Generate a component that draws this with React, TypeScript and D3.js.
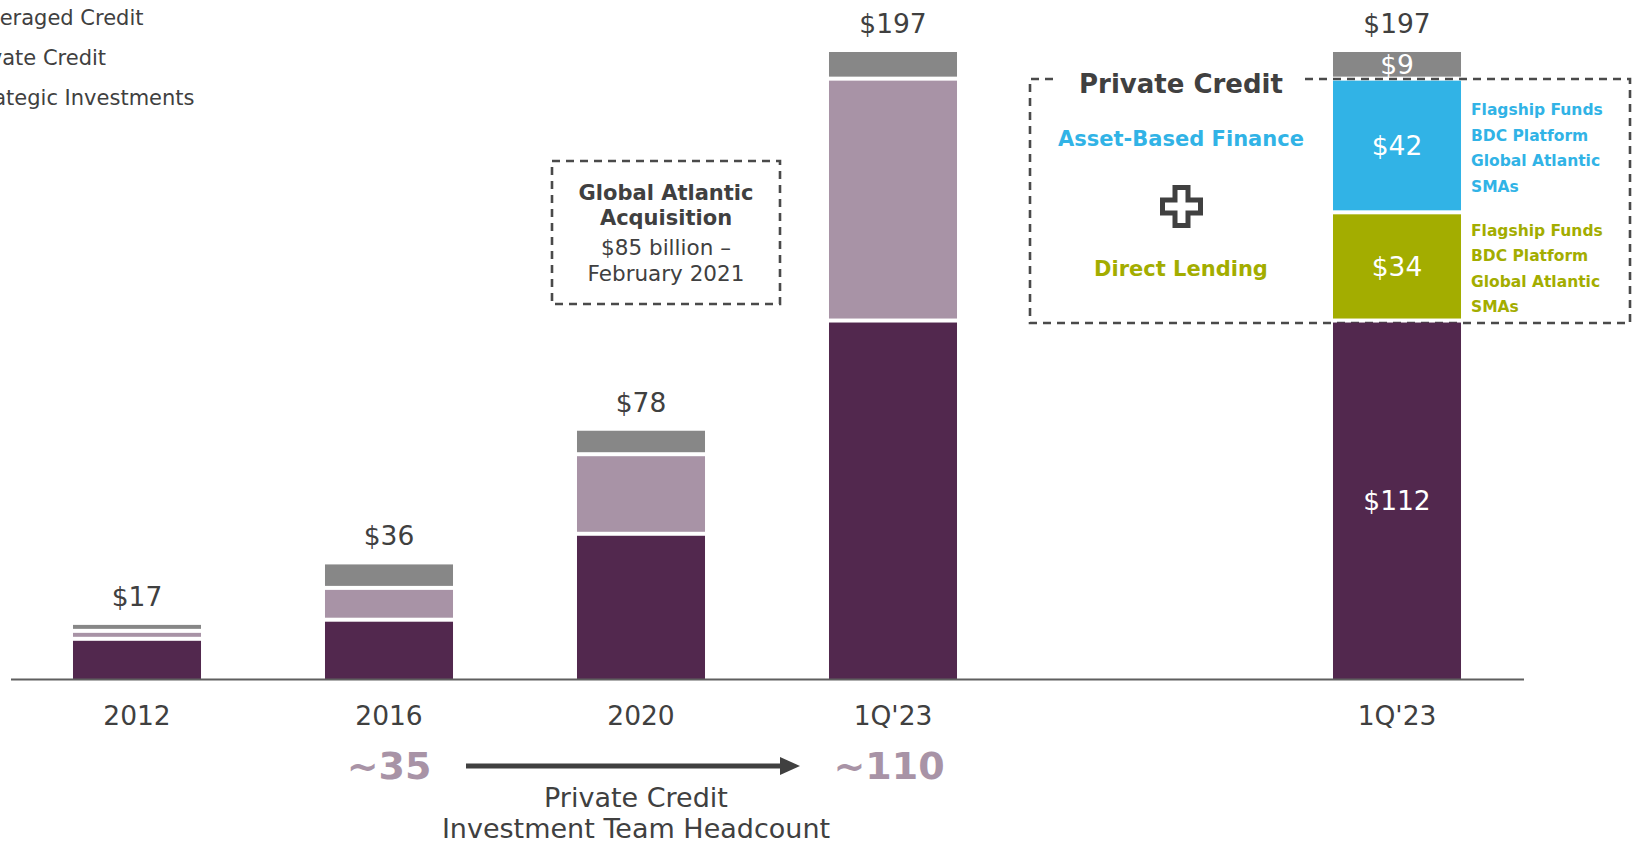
import React, { useEffect } from "react";
import * as d3 from "d3";

// ---- data ----
const slots = ["2012", "2016", "2020", "1Q'23", "gap", "1Q'23 detail"];
const tickLabels = ["2012", "2016", "2020", "1Q'23", "", "1Q'23"];
const historyYears = ["2012", "2016", "2020", "1Q'23"];
const leveragedCredit = [12, 18, 45, 112];
const privateCredit = [2.5, 10, 25, 76];
const strategicInvestments = [2.5, 8, 8, 9];
const totals = [17, 36, 78, 197];

const detailNames = ["Leveraged Credit", "Direct Lending", "Asset-Based Finance", "Strategic Investments"];
const detailValues = [112, 34, 42, 9];
const detailTotal = 197;

const legendLabels = ["Leveraged Credit", "Private Credit", "Strategic Investments"];
const channelLabels = ["Flagship Funds", "BDC Platform", "Global Atlantic", "SMAs"];
const headcount = ["~35", "~110"];

const C = {
  lev: "#52284E",
  pc: "#A893A6",
  si: "#878787",
  abf: "#31B3E6",
  dl: "#A3AD00",
  text: "#404040",
  axis: "#5f5f5f",
  dash: "#4a4a4a",
};

const W = 1637;
const H = 842;
const FONT = "'DejaVu Sans', Verdana, sans-serif";

export default function App() {
  useEffect(() => {
    document.body.style.margin = "0";
  }, []);

  const x = d3
    .scaleBand<string>()
    .domain(slots)
    .range([11, 11 + 252 * 6])
    .paddingInner(0.492)
    .paddingOuter(0.246);
  const y = d3.scaleLinear().domain([0, 197]).range([679, 52]);
  const bw = x.bandwidth();
  const GAP = 4;

  const stackData = historyYears.map((yr, i) => ({
    year: yr,
    lev: leveragedCredit[i],
    pc: privateCredit[i],
    si: strategicInvestments[i],
  }));
  const stack = d3.stack<any>().keys(["lev", "pc", "si"]);
  const series = stack(stackData);
  const colorOf: Record<string, string> = { lev: C.lev, pc: C.pc, si: C.si };

  // detail stack
  const detailColors = [C.lev, C.dl, C.abf, C.si];
  let acc = 0;
  const detailSegs = detailValues.map((v, i) => {
    const s = { y0: acc, y1: acc + v, v, name: detailNames[i], color: detailColors[i] };
    acc += v;
    return s;
  });
  const dx = x("1Q'23 detail")!;

  const segRect = (y0: number, y1: number) => {
    const top = y(y1);
    const bottom = y(y0) - (y0 > 0 ? GAP : 0);
    return { y: top, h: Math.max(0, bottom - top) };
  };

  // plus icon
  const px = 1181.5, py = 206.5, a = 19, t = 6.5;
  const plusPath = `M${px - t},${py - a} H${px + t} V${py - t} H${px + a} V${py + t} H${px + t} V${py + a} H${px - t} V${py + t} H${px - a} V${py - t} H${px - t} Z`;

  const dlSeg = detailSegs[1];
  const abfSeg = detailSegs[2];
  const abfMid = (y(abfSeg.y0) + y(abfSeg.y1)) / 2;
  const dlMid = (y(dlSeg.y0) + y(dlSeg.y1)) / 2;

  return (
    <svg width={W} height={H} style={{ display: "block", fontFamily: FONT }}>
      <rect width={W} height={H} fill="#fff" />

      {/* legend (clipped at left edge) */}
      {legendLabels.map((l, i) => (
        <text key={l} x={-37} y={25 + i * 40} fontSize={21} fill={C.text}>
          {l}
        </text>
      ))}

      {/* historical stacked bars */}
      {series.map((s) =>
        s.map((d, i) => {
          const r = segRect(d[0], d[1]);
          return (
            <rect
              key={s.key + i}
              x={x(historyYears[i])!}
              y={r.y}
              width={bw}
              height={r.h}
              fill={colorOf[s.key]}
            />
          );
        })
      )}
      {historyYears.map((yr, i) => (
        <text
          key={"tot" + yr}
          x={x(yr)! + bw / 2}
          y={y(totals[i]) - 19}
          fontSize={26.5}
          textAnchor="middle"
          fill={C.text}
        >
          ${totals[i]}
        </text>
      ))}

      {/* Private Credit dashed box */}
      <path
        d={`M1053,79 H1030 V323 H1630 V79 H1302`}
        fill="none"
        stroke={C.dash}
        strokeWidth={2.6}
        strokeDasharray="8,6"
      />

      {/* detail bar */}
      {detailSegs.map((s) => {
        const r = segRect(s.y0, s.y1);
        return <rect key={s.name} x={dx} y={r.y} width={bw} height={r.h} fill={s.color} />;
      })}
      {detailSegs.map((s) => {
        const r = segRect(s.y0, s.y1);
        return (
          <text
            key={"l" + s.name}
            x={dx + bw / 2}
            y={r.y + r.h / 2}
            dy="0.36em"
            fontSize={26.5}
            textAnchor="middle"
            fill="#fff"
          >
            ${s.v}
          </text>
        );
      })}
      <text x={dx + bw / 2} y={y(detailTotal) - 19} fontSize={26.5} textAnchor="middle" fill={C.text}>
        ${detailTotal}
      </text>

      {/* box contents */}
      <text x={1181} y={93} fontSize={26} fontWeight="bold" textAnchor="middle" fill={C.text}>
        Private Credit
      </text>
      <text x={1181} y={146} fontSize={21} fontWeight="bold" textAnchor="middle" fill={C.abf}>
        {abfSeg.name}
      </text>
      <path d={plusPath} fill="#fff" stroke={C.text} strokeWidth={5} strokeLinejoin="miter" />
      <text x={1181} y={276} fontSize={21} fontWeight="bold" textAnchor="middle" fill={C.dl}>
        {dlSeg.name}
      </text>
      {channelLabels.map((c, i) => (
        <text
          key={"abf" + c}
          x={1471}
          y={abfMid - 38 + i * 25.5}
          dy="0.36em"
          fontSize={15.5}
          fontWeight="bold"
          fill={C.abf}
        >
          {c}
        </text>
      ))}
      {channelLabels.map((c, i) => (
        <text
          key={"dl" + c}
          x={1471}
          y={dlMid - 38.5 + i * 25.5}
          dy="0.36em"
          fontSize={15.5}
          fontWeight="bold"
          fill={C.dl}
        >
          {c}
        </text>
      ))}

      {/* Global Atlantic box */}
      <rect x={552} y={161} width={228} height={143} fill="none" stroke={C.dash} strokeWidth={2.6} strokeDasharray="8,6" />
      <text x={666} y={200} fontSize={21} fontWeight="bold" textAnchor="middle" fill={C.text}>
        Global Atlantic
      </text>
      <text x={666} y={225} fontSize={21} fontWeight="bold" textAnchor="middle" fill={C.text}>
        Acquisition
      </text>
      <text x={666} y={255} fontSize={21.5} textAnchor="middle" fill={C.text}>
        $85 billion –
      </text>
      <text x={666} y={281} fontSize={21.5} textAnchor="middle" fill={C.text}>
        February 2021
      </text>

      {/* axis */}
      <line x1={11} x2={1524} y1={679.5} y2={679.5} stroke={C.axis} strokeWidth={2} />
      {slots.map((s, i) => (
        <text key={"t" + s} x={x(s)! + bw / 2} y={725} fontSize={26.5} textAnchor="middle" fill={C.text}>
          {tickLabels[i]}
        </text>
      ))}

      {/* headcount */}
      <text x={x("2016")! + bw / 2} y={779} fontSize={38} fontWeight="bold" textAnchor="middle" fill={C.pc}>
        {headcount[0]}
      </text>
      <text x={x("1Q'23")! + bw / 2 - 4} y={779} fontSize={38} fontWeight="bold" textAnchor="middle" fill={C.pc}>
        {headcount[1]}
      </text>
      <line x1={466} x2={784} y1={766} y2={766} stroke={C.text} strokeWidth={5} />
      <path d="M780,757 L800,766 L780,775 Z" fill={C.text} />
      <text x={636} y={807} fontSize={27} textAnchor="middle" fill={C.text}>
        Private Credit
      </text>
      <text x={636} y={838} fontSize={27} textAnchor="middle" fill={C.text}>
        Investment Team Headcount
      </text>
    </svg>
  );
}
